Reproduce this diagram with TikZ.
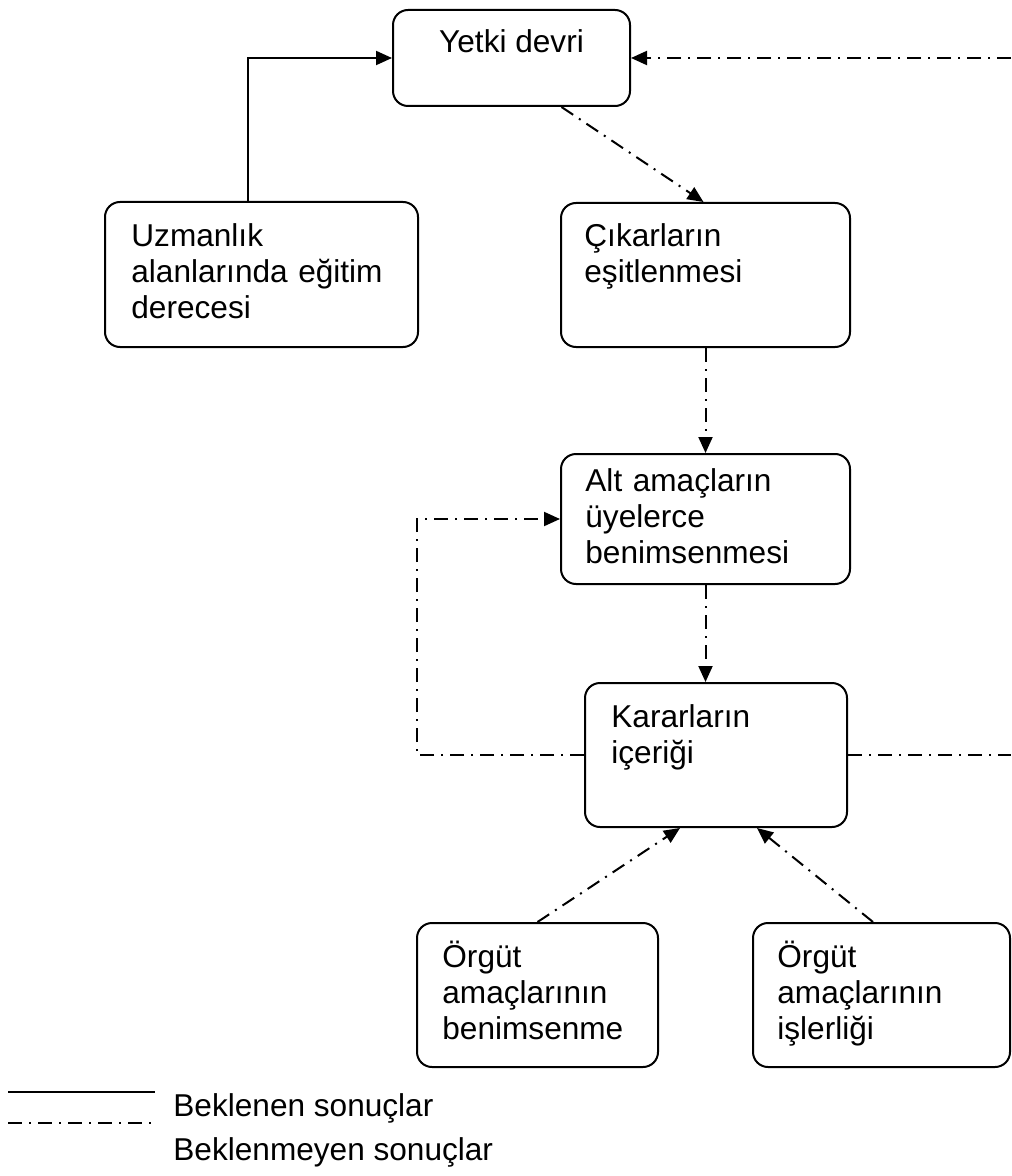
\documentclass[tikz,border=0pt]{standalone}
\usepackage{fontspec}
\setmainfont{Liberation Sans}
\usetikzlibrary{arrows.meta}

\begin{document}
\begin{tikzpicture}[x=0.5pt, y=-0.5pt,
box/.style={rectangle, rounded corners=7.5pt, draw=black, line width=1pt, fill=white, inner sep=0pt},
boxtext/.style={anchor=base west, inner sep=0pt, text width=150pt, align=left, font=\fontsize{15.8}{18}\selectfont},
legtext/.style={anchor=base west, inner sep=0pt, font=\fontsize{15.8}{18}\selectfont},
dashdot/.style={line width=1pt, dash pattern=on 7pt off 3.5pt on 1pt off 3.5pt},
expected/.style={line width=1pt, -{Triangle[length=8pt,width=7pt]}},
unexpected/.style={dashdot, -{Triangle[length=8pt,width=7pt]}},
]
\useasboundingbox (0,0) rectangle (1011,1176);

%Nodes
\node[box, minimum width=118.5pt, minimum height=48pt]   (yetki)    at (511.5,58)  {};
\node[box, minimum width=156.5pt, minimum height=72.5pt] (uzmanlik) at (261.5,274.5) {};
\node[box, minimum width=144.5pt, minimum height=72pt]   (cikar)    at (705.5,275) {};
\node[box, minimum width=144.5pt, minimum height=65pt]   (altamac)  at (705.5,519) {};
\node[box, minimum width=131pt, minimum height=72pt]     (karar)    at (716,755)   {};
\node[box, minimum width=120.5pt, minimum height=72pt]   (orgbenim) at (537.5,995) {};
\node[box, minimum width=128.5pt, minimum height=72pt]   (orgisler) at (881.5,995) {};

%Texts
\node[anchor=base, inner sep=0pt, font=\fontsize{15.8}{18}\selectfont] (yetki-t) at ([shift={(0,44)}]yetki.north) {Yetki devri};
\node[boxtext] (uzmanlik-t) at ([shift={(27,46)}]uzmanlik.north west) {Uzmanlık\\alanlarında eğitim\\derecesi};
\node[boxtext] (cikar-t)    at ([shift={(24,45)}]cikar.north west)    {Çıkarların\\eşitlenmesi};
\node[boxtext] (altamac-t)  at ([shift={(25,38)}]altamac.north west)  {Alt amaçların\\üyelerce\\benimsenmesi};
\node[boxtext] (karar-t)    at ([shift={(27,45)}]karar.north west)    {Kararların\\içeriği};
\node[boxtext] (orgbenim-t) at ([shift={(26,45)}]orgbenim.north west) {Örgüt\\amaçlarının\\benimsenme};
\node[boxtext] (orgisler-t) at ([shift={(25,45)}]orgisler.north west) {Örgüt\\amaçlarının\\işlerliği};

%Lines
\coordinate (redge1) at (1011,58);
\coordinate (redge2) at (1011,755);
\coordinate (lturn)  at (417,519);
\draw[expected] ([xshift=-6.75pt]uzmanlik.north) |- (yetki.west);
\draw[unexpected] (redge1) -- (yetki.east);
\draw[unexpected] ([xshift=25pt]yetki.south) -- ([xshift=-1pt]cikar.north);
\draw[unexpected] (cikar.south) -- (altamac.north);
\draw[unexpected] (altamac.south) -- (altamac.south |- karar.north);
\draw[unexpected] (karar.west) -| (lturn) -- (altamac.west);
\draw[dashdot] (karar.east) -- (redge2);
\draw[unexpected] (orgbenim.north) -- ([xshift=-18pt]karar.south);
\draw[unexpected] ([xshift=-4.25pt]orgisler.north) -- ([xshift=20.5pt]karar.south);

%Legend
\coordinate (leg1a) at (8,1092);
\coordinate (leg1b) at (155,1092);
\coordinate (leg2a) at (8,1123);
\coordinate (leg2b) at (155,1123);
\draw[line width=0.8pt] (leg1a) -- (leg1b);
\draw[dashdot, line width=0.8pt] (leg2a) -- (leg2b);
\node[legtext] (leg1-t) at (173,1116) {Beklenen sonuçlar};
\node[legtext] (leg2-t) at (173,1160) {Beklenmeyen sonuçlar};

\end{tikzpicture}
\end{document}
